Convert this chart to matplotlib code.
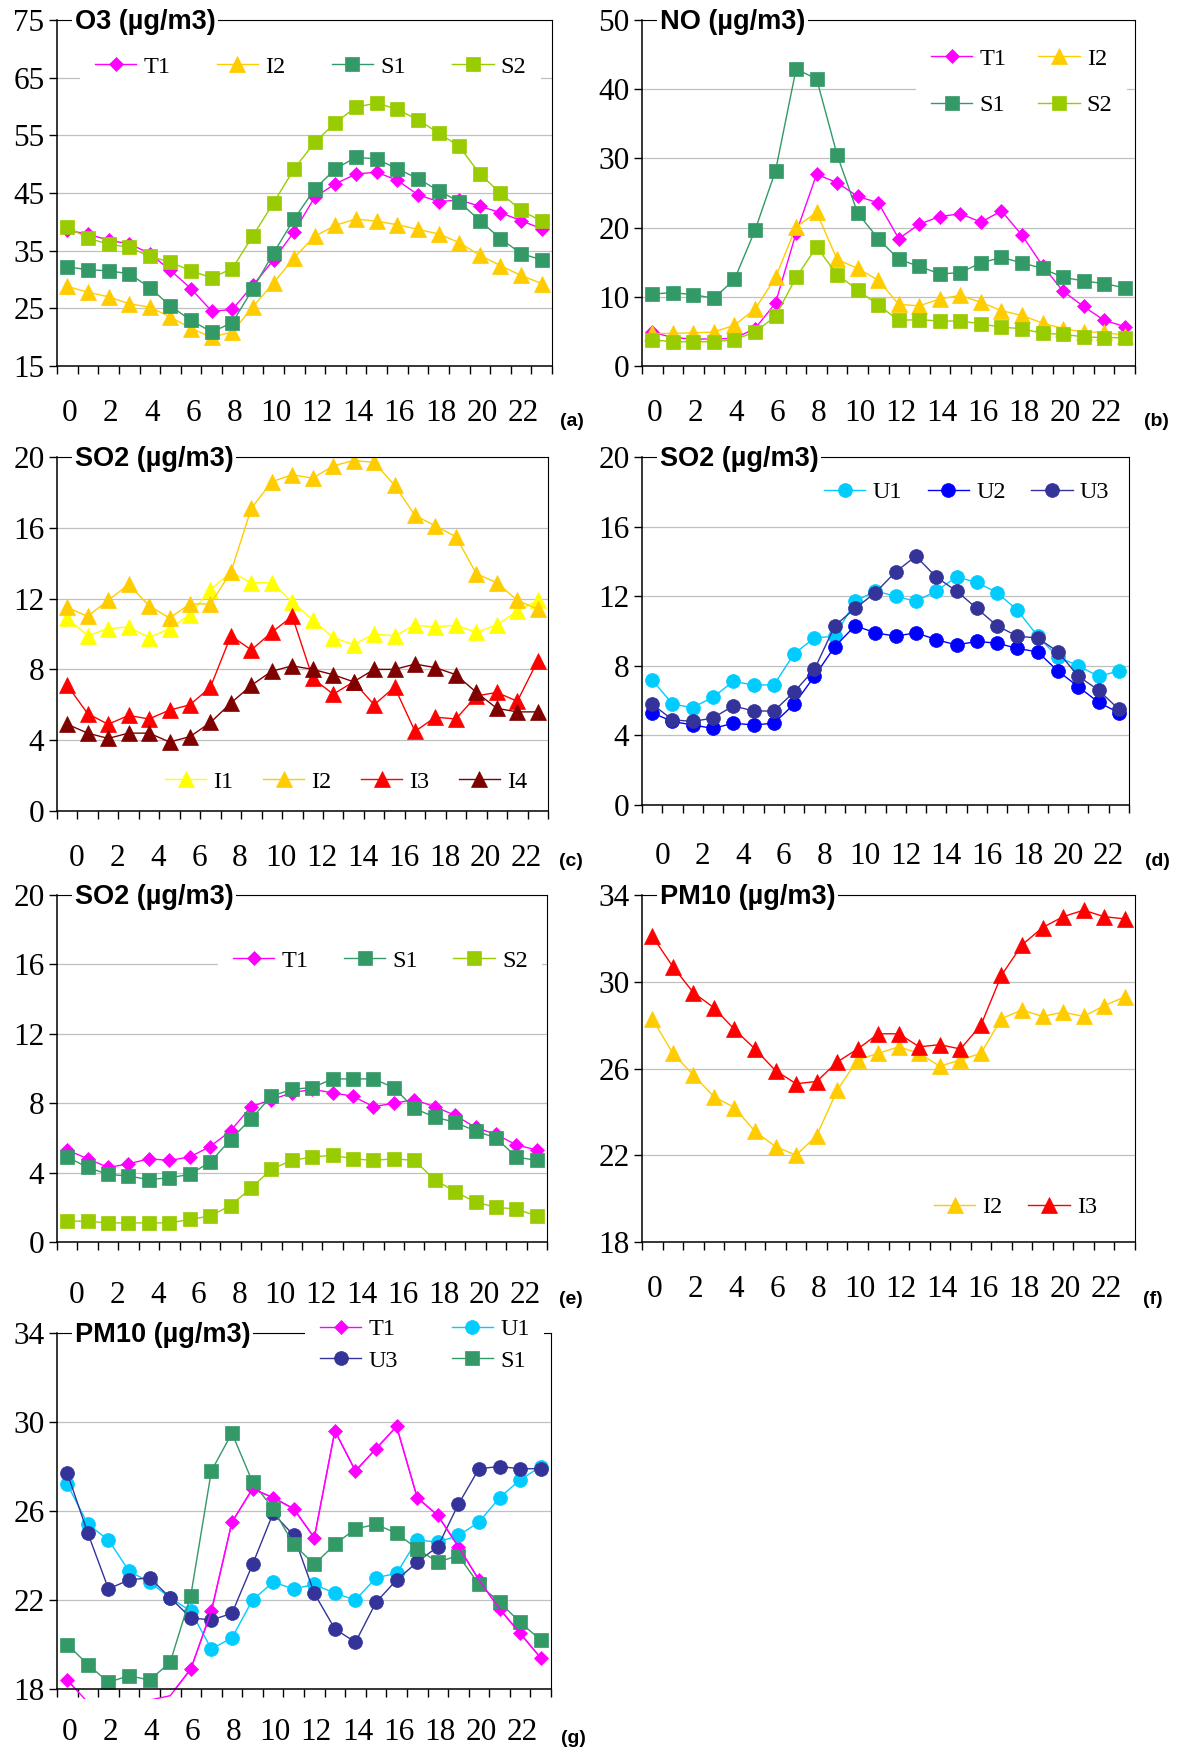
import matplotlib
matplotlib.use("Agg")
import matplotlib.pyplot as plt
import matplotlib.transforms as mtransforms
from matplotlib.patches import Rectangle
import numpy as np

W, H = 1177, 1751
hours = list(range(24))

# (a) O3
o3_t1 = [38.5, 37.9, 36.8, 36.2, 34.5, 31.6, 28.4, 24.5, 24.8, 29.0, 33.4, 38.3,
         44.3, 46.6, 48.3, 48.6, 47.2, 44.7, 43.5, 43.8, 42.7, 41.6, 40.2, 38.8]
o3_i2 = [28.8, 27.8, 27.0, 25.8, 25.2, 23.5, 21.5, 20.0, 20.9, 25.3, 29.4, 33.8,
         37.5, 39.4, 40.5, 40.1, 39.5, 38.7, 37.9, 36.4, 34.2, 32.4, 30.7, 29.3]
o3_s1 = [32.2, 31.7, 31.5, 31.0, 28.6, 25.4, 22.9, 20.9, 22.5, 28.4, 34.6, 40.5,
         45.7, 49.2, 51.2, 50.9, 49.2, 47.5, 45.4, 43.5, 40.2, 37.1, 34.5, 33.4]
o3_s2 = [39.1, 37.2, 36.1, 35.6, 34.0, 33.0, 31.5, 30.3, 31.9, 37.6, 43.3, 49.2,
         53.8, 57.2, 59.9, 60.6, 59.5, 57.7, 55.4, 53.1, 48.3, 45.0, 42.0, 40.1]

# (b) NO
no_t1 = [4.9, 4.1, 3.9, 3.9, 4.0, 5.4, 9.1, 19.2, 27.7, 26.5, 24.5, 23.6,
         18.4, 20.5, 21.6, 22.0, 20.8, 22.4, 18.9, 14.5, 10.8, 8.6, 6.6, 5.7]
no_i2 = [4.7, 4.7, 4.8, 4.9, 5.9, 8.2, 12.8, 20.1, 22.2, 15.4, 14.1, 12.4,
         8.9, 8.7, 9.7, 10.2, 9.2, 8.0, 7.3, 6.2, 5.4, 4.9, 4.9, 4.4]
no_s1 = [10.4, 10.6, 10.3, 9.8, 12.5, 19.6, 28.2, 42.9, 41.5, 30.5, 22.1, 18.4,
         15.4, 14.4, 13.3, 13.5, 14.9, 15.7, 14.9, 14.1, 12.8, 12.3, 11.9, 11.3]
no_s2 = [3.8, 3.5, 3.5, 3.5, 3.8, 4.9, 7.2, 12.8, 17.2, 13.2, 11.0, 8.8,
         6.6, 6.7, 6.5, 6.5, 6.1, 5.6, 5.4, 4.7, 4.6, 4.2, 4.1, 4.1]

# (c) SO2, industrial sites
so2_i1 = [10.9, 9.9, 10.3, 10.4, 9.8, 10.3, 11.1, 12.5, 13.5, 12.9, 12.9, 11.8,
          10.8, 9.8, 9.4, 10.0, 9.9, 10.5, 10.4, 10.5, 10.1, 10.5, 11.3, 11.9]
so2_i2 = [11.5, 11.0, 11.9, 12.8, 11.6, 10.9, 11.7, 11.7, 13.5, 17.1, 18.6, 19.0,
          18.8, 19.5, 19.8, 19.7, 18.4, 16.7, 16.1, 15.5, 13.4, 12.9, 11.9, 11.4]
so2_i3 = [7.1, 5.5, 4.9, 5.4, 5.2, 5.7, 6.0, 7.0, 9.9, 9.1, 10.1, 11.0,
          7.5, 6.6, 7.3, 6.0, 7.0, 4.5, 5.3, 5.2, 6.5, 6.7, 6.2, 8.5]
so2_i4 = [4.9, 4.4, 4.1, 4.4, 4.4, 3.9, 4.2, 5.0, 6.1, 7.1, 7.9, 8.2,
          8.0, 7.7, 7.3, 8.0, 8.0, 8.3, 8.1, 7.7, 6.7, 5.8, 5.6, 5.6]

# (d) SO2, urban sites
so2_u1 = [7.2, 5.8, 5.6, 6.2, 7.1, 6.9, 6.9, 8.7, 9.6, 9.7, 11.7, 12.3,
          12.0, 11.7, 12.3, 13.1, 12.8, 12.2, 11.2, 9.7, 8.5, 8.0, 7.4, 7.7]
so2_u2 = [5.3, 4.8, 4.6, 4.4, 4.7, 4.6, 4.7, 5.8, 7.4, 9.1, 10.3, 9.9,
          9.7, 9.9, 9.5, 9.2, 9.4, 9.3, 9.0, 8.8, 7.7, 6.8, 5.9, 5.3]
so2_u3 = [5.8, 4.9, 4.8, 5.0, 5.7, 5.4, 5.4, 6.5, 7.8, 10.3, 11.3, 12.2,
          13.4, 14.3, 13.1, 12.3, 11.3, 10.3, 9.7, 9.6, 8.8, 7.4, 6.6, 5.5]

# (e) SO2, traffic and suburban sites
so2_t1 = [5.3, 4.8, 4.3, 4.5, 4.8, 4.7, 4.9, 5.5, 6.4, 7.8, 8.2, 8.6,
          8.8, 8.6, 8.4, 7.8, 8.0, 8.2, 7.8, 7.3, 6.6, 6.2, 5.6, 5.3]
so2_s1 = [4.9, 4.3, 3.9, 3.8, 3.6, 3.7, 3.9, 4.6, 5.9, 7.1, 8.4, 8.8,
          8.9, 9.4, 9.4, 9.4, 8.9, 7.7, 7.2, 6.9, 6.4, 6.0, 4.9, 4.7]
so2_s2 = [1.2, 1.2, 1.1, 1.1, 1.1, 1.1, 1.3, 1.5, 2.1, 3.1, 4.2, 4.7,
          4.9, 5.0, 4.8, 4.7, 4.8, 4.7, 3.6, 2.9, 2.3, 2.0, 1.9, 1.5]

# (f) PM10, industrial sites
pm_i2 = [28.3, 26.7, 25.7, 24.7, 24.2, 23.1, 22.4, 22.0, 22.9, 25.0, 26.4, 26.7,
         27.0, 26.7, 26.1, 26.4, 26.7, 28.3, 28.7, 28.4, 28.6, 28.4, 28.9, 29.3]
pm_i3 = [32.1, 30.7, 29.5, 28.8, 27.8, 26.9, 25.9, 25.3, 25.4, 26.3, 26.9, 27.6,
         27.6, 27.0, 27.1, 26.9, 28.0, 30.3, 31.7, 32.5, 33.0, 33.3, 33.0, 32.9]

# (g) PM10, other sites
pmg_t1 = [18.4, 17.4, 16.9, 16.9, 17.5, 17.7, 18.9, 21.5, 25.5, 27.0, 26.6, 26.1,
          24.8, 29.6, 27.8, 28.8, 29.8, 26.6, 25.8, 24.4, 22.9, 21.6, 20.5, 19.4]
pmg_u1 = [27.2, 25.4, 24.7, 23.3, 22.8, 22.1, 21.5, 19.8, 20.3, 22.0, 22.8, 22.5,
          22.7, 22.3, 22.0, 23.0, 23.2, 24.7, 24.6, 24.9, 25.5, 26.6, 27.4, 28.0]
pmg_u3 = [27.7, 25.0, 22.5, 22.9, 23.0, 22.1, 21.2, 21.1, 21.4, 23.6, 25.9, 24.9,
          22.3, 20.7, 20.1, 21.9, 22.9, 23.7, 24.4, 26.3, 27.9, 28.0, 27.9, 27.9]
pmg_s1 = [20.0, 19.1, 18.3, 18.6, 18.4, 19.2, 22.2, 27.8, 29.5, 27.3, 26.1, 24.5,
          23.6, 24.5, 25.2, 25.4, 25.0, 24.3, 23.7, 24.0, 22.7, 21.9, 21.0, 20.2]

STYLE = {
    "T1": ("#FF00FF", "D", 7.5),
    "I1": ("#FFFF00", "^", 11),
    "I2": ("#FFCC00", "^", 11),
    "I3": ("#FF0000", "^", 11),
    "I4": ("#800000", "^", 11),
    "S1": ("#339966", "s", 9.5),
    "S2": ("#99CC00", "s", 9.5),
    "U1": ("#00CCFF", "o", 10),
    "U2": ("#0000FF", "o", 10),
    "U3": ("#333399", "o", 10),
}

SERIF = "Liberation Serif"
SANS = "Liberation Sans"
FS_TICK = 22.5
FS_LEG = 17.5

fig = plt.figure(figsize=(W / 100, H / 100), dpi=100)


def add_panel(box, ylim, ystep, title, tag, tag_xy, label_dx, label_pad):
    left, top, right, bottom = box
    ax = fig.add_axes([left / W, 1 - bottom / H, (right - left) / W, (bottom - top) / H])
    ax.set_xlim(-0.5, 23.5)
    ax.set_ylim(*ylim)
    ax.set_yticks(np.arange(ylim[0], ylim[1] + 0.1, ystep))
    ax.set_xticks(range(0, 24, 2))
    ax.set_xticks(np.arange(-0.5, 24, 1), minor=True)
    ax.tick_params(axis="x", which="major", length=0, pad=label_pad)
    ax.tick_params(axis="x", which="minor", length=6, width=1, direction="out")
    ax.tick_params(axis="y", length=6, width=1, direction="out", pad=3)
    for lab in ax.get_xticklabels() + ax.get_yticklabels():
        lab.set_fontfamily(SERIF)
        lab.set_fontsize(FS_TICK)
    off = mtransforms.ScaledTranslation(label_dx / 100, 0, fig.dpi_scale_trans)
    for lab in ax.get_xticklabels():
        lab.set_transform(lab.get_transform() + off)
    ax.yaxis.grid(True, color="#c0c0c0", lw=0.9)
    ax.set_axisbelow(True)
    for side in ["left", "bottom"]:
        ax.spines[side].set_linewidth(1.1)
    for side in ["top", "right"]:
        ax.spines[side].set_linewidth(0.8)
    fig.text((left + 18) / W, 1 - (top + 2) / H, title, ha="left", va="center",
             fontfamily=SANS, fontweight="bold", fontsize=19.5,
             bbox=dict(facecolor="white", edgecolor="none", pad=2))
    fig.text(tag_xy[0] / W, 1 - tag_xy[1] / H, tag, ha="center", va="center",
             fontfamily=SANS, fontweight="bold", fontsize=14)
    return ax


def series(ax, y, name):
    color, marker, ms = STYLE[name]
    line, = ax.plot(hours, y, color=color, lw=1.0, marker=marker, ms=ms,
                    mec=color, mew=0.5, label=name)
    return line


def legend(ax, handles, ncol, x, y, colspace, labelspace=1.0):
    pad = 0.6
    lg = ax.legend(handles=handles, ncol=ncol, loc="center left",
                   bbox_to_anchor=((x - pad * FS_LEG * 100 / 72) / W, 1 - y / H),
                   bbox_transform=fig.transFigure, frameon=True, fancybox=False,
                   facecolor="white", edgecolor="none", framealpha=1,
                   borderpad=pad, borderaxespad=0, handlelength=1.7,
                   handletextpad=0.3, columnspacing=colspace,
                   labelspacing=labelspace,
                   prop={"family": SERIF, "size": FS_LEG})
    return lg


# (a)
ax = add_panel((57, 20, 552, 366), (15, 75), 10, "O3 (µg/m3)", "(a)", (572, 422), 2, 24)
h = [series(ax, o3_t1, "T1"), series(ax, o3_i2, "I2"),
     series(ax, o3_s1, "S1"), series(ax, o3_s2, "S2")]
legend(ax, h, 4, 95, 67, 1.9)

# (b)
ax = add_panel((642, 20, 1135, 366), (0, 50), 10, "NO (µg/m3)", "(b)", (1156, 422), 2, 24)
h = [series(ax, no_t1, "T1"), series(ax, no_i2, "I2"),
     series(ax, no_s1, "S1"), series(ax, no_s2, "S2")]
legend(ax, [h[0], h[2], h[1], h[3]], 2, 931, 82, 1.3, 1.0)

# (c)
ax = add_panel((57, 457, 548, 811), (0, 20), 4, "SO2 (µg/m3)", "(c)", (571, 861), 9, 24)
h = [series(ax, so2_i1, "I1"), series(ax, so2_i2, "I2"),
     series(ax, so2_i3, "I3"), series(ax, so2_i4, "I4")]
legend(ax, h, 4, 165, 782, 1.2)

# (d)
ax = add_panel((642, 457, 1129, 805), (0, 20), 4, "SO2 (µg/m3)", "(d)", (1157, 861), 10, 26.5)
h = [series(ax, so2_u1, "U1"), series(ax, so2_u2, "U2"), series(ax, so2_u3, "U3")]
legend(ax, h, 3, 824, 492, 1.05)

# (e)
ax = add_panel((57, 895, 547, 1242), (0, 20), 4, "SO2 (µg/m3)", "(e)", (571, 1299), 9, 28)
h = [series(ax, so2_t1, "T1"), series(ax, so2_s1, "S1"), series(ax, so2_s2, "S2")]
legend(ax, h, 3, 233, 961, 1.45)

# (f)
ax = add_panel((642, 895, 1135, 1242), (18, 34), 4, "PM10 (µg/m3)", "(f)", (1153, 1299), 2, 24)
h = [series(ax, pm_i2, "I2"), series(ax, pm_i3, "I3")]
legend(ax, h, 2, 934, 1207, 1.05)

# (g)
ax = add_panel((57, 1333, 551, 1689), (18, 34), 4, "PM10 (µg/m3)", "(g)", (573, 1738), 2, 21)
h = [series(ax, pmg_t1, "T1"), series(ax, pmg_u1, "U1"),
     series(ax, pmg_u3, "U3"), series(ax, pmg_s1, "S1")]
# the T1 line runs a little below the axis in the original
low, = ax.plot(hours, pmg_t1, color=STYLE["T1"][0], lw=1.0)
low.set_clip_path(Rectangle((0, -0.028), 1, 1.028, transform=ax.transAxes))
legend(ax, [h[0], h[2], h[1], h[3]], 2, 320, 1345, 2.2, 0.38)

fig.savefig("out.png", dpi=100)
